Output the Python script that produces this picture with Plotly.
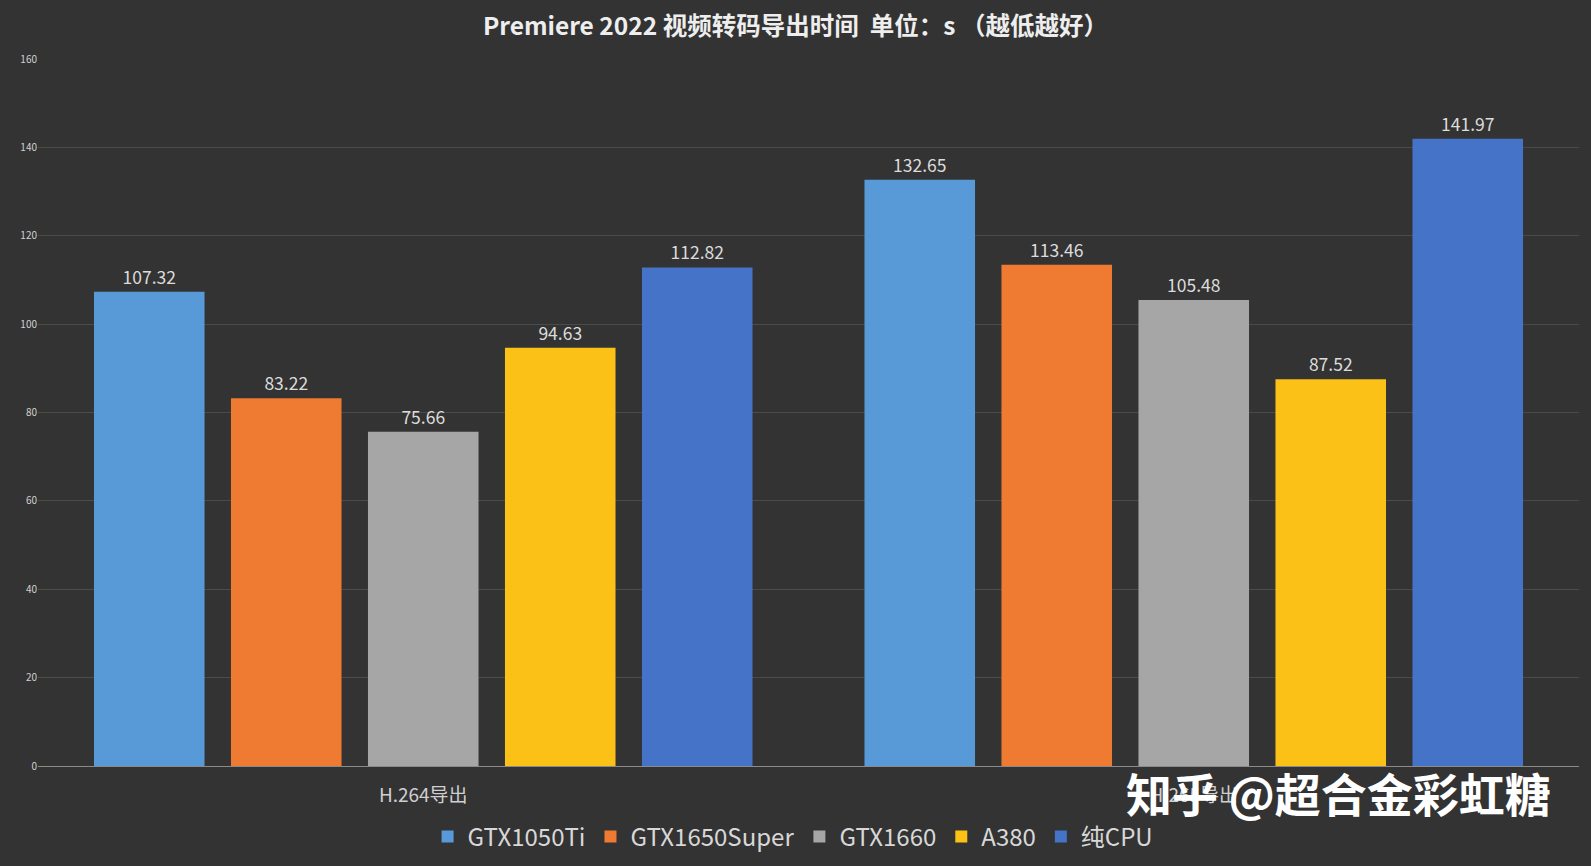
import plotly.graph_objects as go

categories = ["H.264导出", "H.265导出"]
series_names = ["GTX1050Ti", "GTX1650Super", "GTX1660", "A380", "纯CPU"]
gtx1050ti = [107.32, 132.65]
gtx1650super = [83.22, 113.46]
gtx1660 = [75.66, 105.48]
a380 = [94.63, 87.52]
cpu = [112.82, 141.97]
y_ticks = [0, 20, 40, 60, 80, 100, 120, 140, 160]

values = [gtx1050ti, gtx1650super, gtx1660, a380, cpu]
colors = ["#5899d7", "#ef7b33", "#a6a6a6", "#fcc116", "#4473c8"]

FONT = "Noto Sans CJK SC"

fig = go.Figure()
for name, vals, c in zip(series_names, values, colors):
    fig.add_trace(go.Bar(
        name=name, x=categories, y=vals,
        marker=dict(color=c, line=dict(width=0)),
        text=[f"{v:.2f}" for v in vals],
        textposition="outside",
        textfont=dict(size=17.5, color="#dcdcdc", family=FONT),
        cliponaxis=False,
    ))

fig.update_layout(
    width=1591, height=866,
    paper_bgcolor="#333333",
    plot_bgcolor="rgba(0,0,0,0)",
    barmode="group",
    bargap=0.111,
    bargroupgap=0.193,
    margin=dict(l=38, r=12, t=59, b=100, autoexpand=False),
    title=dict(
        text="<b>Premiere 2022 视频转码导出时间\u00a0\u00a0单位：s （越低越好）</b>",
        x=0.5, xanchor="center", y=0.97, yanchor="middle",
        font=dict(size=24.5, color="#eeeeee", family=FONT),
    ),
    font=dict(family=FONT, color="#d0d0d0"),
    legend=dict(
        orientation="h", x=0.49, xanchor="center",
        yref="container", y=0.0335, yanchor="middle",
        font=dict(size=24, color="#d8d8d8", family=FONT),
        itemsizing="constant", traceorder="normal", itemwidth=30,
        bgcolor="rgba(0,0,0,0)",
    ),
    showlegend=True,
)
fig.update_yaxes(
    range=[0, 160], tickvals=y_ticks,
    showgrid=True, gridcolor="#4b4b4b", gridwidth=1,
    zeroline=False, showline=False,
    tickfont=dict(size=10, color="#d0d0d0", family=FONT),
    ticks="", ticklen=0,
)
fig.update_xaxes(
    showline=True, linecolor="#8a8a8a", linewidth=1,
    tickfont=dict(size=19, color="#cfcfcf", family=FONT),
    ticks="", ticklabelstandoff=12,
)
fig.add_annotation(
    text="<b>知乎 @超合金彩虹糖</b>", xref="paper", yref="paper",
    x=0.983, xanchor="right", y=-0.037, yanchor="middle",
    showarrow=False, font=dict(size=46, color="#ffffff", family=FONT),
)

fig.write_html(
    "out.html",
    config={"displayModeBar": False},
    post_script="document.body.style.margin='0';document.body.style.background='#333333';",
)
